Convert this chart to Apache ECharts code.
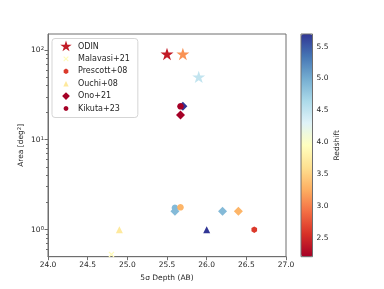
<!DOCTYPE html>
<html><head><meta charset="utf-8">
<script src="https://cdn.jsdelivr.net/npm/echarts@6/dist/echarts.min.js"></script>
<style>html,body{margin:0;padding:0;background:#fff}#c{width:384px;height:289px}</style>
</head><body><div id="c"></div>
<script>
// ---- data ----
const seriesNames = ['ODIN', 'Malavasi+21', 'Prescott+08', 'Ouchi+08', 'Ono+21', 'Kikuta+23'];
const odinDepth = [25.5, 25.7, 25.9];
const odinArea = [90, 90, 50];
const odinZ = [2.4, 3.1, 4.5];
const malavasiDepth = [24.8];
const malavasiArea = [0.53];
const malavasiZ = [3.9];
const prescottDepth = [26.6];
const prescottArea = [1.0];
const prescottZ = [2.6];
const ouchiDepth = [24.9, 26.0];
const ouchiArea = [1.0, 1.0];
const ouchiZ = [3.7, 5.7];
const onoDepth = [25.67, 25.7, 25.6, 26.2, 26.4];
const onoArea = [18.8, 23.5, 1.6, 1.6, 1.6];
const onoZ = [2.2, 5.7, 4.9, 4.9, 3.3];
const kikutaDepth = [25.67, 25.6, 25.67];
const kikutaArea = [23.5, 1.75, 1.77];
const kikutaZ = [2.2, 4.9, 3.3];
const xTickLabels = [24.0, 24.5, 25.0, 25.5, 26.0, 26.5, 27.0];
const yMajorTicks = [1, 10, 100];
const yMinorTicks = [0.6, 0.7, 0.8, 0.9, 2, 3, 4, 5, 6, 7, 8, 9, 20, 30, 40, 50, 60, 70, 80, 90];
const zTicks = [2.5, 3.0, 3.5, 4.0, 4.5, 5.0, 5.5];
const zMin = 2.2, zMax = 5.7;

// ---- colormap RdYlBu ----
const RdYlBu = ['#a50026','#d73027','#f46d43','#fdae61','#fee090','#ffffbf','#e0f3f8','#abd9e9','#74add1','#4575b4','#313695'];
function hex2rgb(h){return [parseInt(h.substr(1,2),16),parseInt(h.substr(3,2),16),parseInt(h.substr(5,2),16)];}
function cmap(z){
  let t = (z - zMin) / (zMax - zMin); t = Math.max(0, Math.min(1, t));
  const p = t * (RdYlBu.length - 1); const i = Math.min(Math.floor(p), RdYlBu.length - 2); const f = p - i;
  const a = hex2rgb(RdYlBu[i]), b = hex2rgb(RdYlBu[i+1]);
  return 'rgb(' + a.map((v,k)=>Math.round(v + (b[k]-v)*f)).join(',') + ')';
}

// ---- marker shapes ----
function poly(pts, s, pad){
  let d = pad ? 'M-1 -1 M1 1 ' : '';
  d += pts.map((p,i)=>(i?'L':'M') + (p[0]*s).toFixed(4) + ' ' + (p[1]*s).toFixed(4)).join(' ') + ' Z';
  return d;
}
const starPts = [[0,-1],[0.2245,-0.309],[0.951,-0.309],[0.363,0.118],[0.588,0.809],[0,0.382],[-0.588,0.809],[-0.363,0.118],[-0.951,-0.309],[-0.2245,-0.309]];
const hexPts = [[0,-1],[0.866,-0.5],[0.866,0.5],[0,1],[-0.866,0.5],[-0.866,-0.5]];
const triPts = [[0,-1],[1,1],[-1,1]];
const diaPts = [[0,-1],[1,0],[0,1],[-1,0]];
const w = 0.28;
const xBar1 = [[-1+w,-1],[1,1-w],[1-w,1],[-1,-1+w]];
const xBar2 = [[1,-1+w],[-1+w,1],[-1,1-w],[1-w,-1]];
function circ(s, pad){
  let d = pad ? 'M-1 -1 M1 1 ' : '';
  const n = 24; const pts = [];
  for (let i=0;i<n;i++){const a=2*Math.PI*i/n; pts.push([Math.cos(a),Math.sin(a)]);}
  return d + poly(pts, s, false);
}
function xshape(s, pad){ return (pad ? 'M-1 -1 M1 1 ' : '') + poly(xBar1, s, false) + ' ' + poly(xBar2, s, false); }

const plotSym = {
  'ODIN': {p: 'path://' + poly(starPts,1,false), s: 13},
  'Malavasi+21': {p: 'path://' + xshape(1,false), s: 6},
  'Prescott+08': {p: 'path://' + poly(hexPts,1,false), s: 6.5},
  'Ouchi+08': {p: 'path://' + poly(triPts,1,false), s: 7},
  'Ono+21': {p: 'path://' + poly(diaPts,1,false), s: 9},
  'Kikuta+23': {p: 'path://' + circ(1,false), s: 6.5}
};
const legSym = {
  'ODIN': 'path://' + poly(starPts,1,true),
  'Malavasi+21': 'path://' + xshape(0.45,true),
  'Prescott+08': 'path://' + poly(hexPts,0.45,true),
  'Ouchi+08': 'path://' + poly(triPts,0.45,true),
  'Ono+21': 'path://' + poly(diaPts,0.65,true),
  'Kikuta+23': 'path://' + circ(0.4,true)
};

const groups = [
  [odinDepth, odinArea, odinZ],
  [malavasiDepth, malavasiArea, malavasiZ],
  [prescottDepth, prescottArea, prescottZ],
  [ouchiDepth, ouchiArea, ouchiZ],
  [onoDepth, onoArea, onoZ],
  [kikutaDepth, kikutaArea, kikutaZ]
];

const txt = '#262626', axc = '#6e6e6e', FS = 7.5, FONT = 'DejaVu Sans';

const series = seriesNames.map((name, si) => {
  const [xs, ys, zs] = groups[si];
  return {
    type: 'scatter', name, xAxisIndex: 0, yAxisIndex: 0,
    symbol: plotSym[name].p, symbolSize: plotSym[name].s, symbolKeepAspect: true,
    itemStyle: {color: cmap(zs[0]), opacity: 1},
    emphasis: {disabled: true},
    data: xs.map((x,i)=>({value:[x, ys[i], zs[i]], itemStyle:{color: cmap(zs[i])}}))
  };
});
series.push({type:'scatter', name:'cbar', xAxisIndex:1, yAxisIndex:2, data:[], silent:true});

const option = {
  animation: false,
  textStyle: {fontFamily: FONT},
  grid: [
    {left:48, right:98, top:34, bottom:32.3, show:true, borderColor:axc, borderWidth:1, backgroundColor:'transparent'},
    {left:301, width:11.5, top:34, height:222.7, show:true, borderColor:axc, borderWidth:1, backgroundColor:'transparent', z:10}
  ],
  xAxis: [
    {gridIndex:0, type:'value', min:24, max:27, interval:0.5,
     axisLine:{show:true, lineStyle:{color:axc}},
     axisTick:{show:true, length:3.5, lineStyle:{color:axc}},
     axisLabel:{fontSize:FS, color:txt, margin:4, fontFamily:FONT, formatter: v => v.toFixed(1)},
     splitLine:{show:false},
     name:'5σ Depth (AB)', nameLocation:'middle', nameGap:16, nameTextStyle:{fontSize:FS, color:txt, fontFamily:FONT}},
    {gridIndex:1, type:'value', min:0, max:1, show:false}
  ],
  yAxis: [
    {gridIndex:0, type:'log', logBase:10, min:0.5, max:150, position:'left',
     axisLine:{show:true, lineStyle:{color:axc}},
     axisTick:{show:true, length:3.5, customValues: yMajorTicks, lineStyle:{color:axc}},
     axisLabel:{customValues: yMajorTicks, margin:4, color:txt, fontSize:FS, fontFamily:FONT,
       formatter: v => '{b|10}{s|' + Math.round(Math.log10(v)) + '}',
       rich:{b:{fontSize:FS, color:txt, fontFamily:FONT}, s:{fontSize:5.3, color:txt, fontFamily:FONT, verticalAlign:'top'}}},
     splitLine:{show:false}, minorTick:{show:false},
     name:'{b|Area [deg}{s|2}{b|]}', nameLocation:'middle', nameGap:23, nameMoveOverlap:false,
     nameTextStyle:{rich:{b:{fontSize:FS, color:txt, fontFamily:FONT}, s:{fontSize:5.3, color:txt, fontFamily:FONT, verticalAlign:'top'}}}},
    {gridIndex:0, type:'log', logBase:10, min:0.5, max:150, position:'left', offset:0,
     axisLine:{show:false},
     axisTick:{show:true, length:2, customValues: yMinorTicks, lineStyle:{color:axc}},
     axisLabel:{show:false}, splitLine:{show:false}},
    {gridIndex:1, type:'value', position:'right', min:zMin, max:zMax,
     axisLine:{show:false},
     axisTick:{show:true, length:3.5, customValues: zTicks, lineStyle:{color:axc}},
     axisLabel:{customValues: zTicks, margin:4, color:txt, fontSize:FS, fontFamily:FONT, formatter: v => v.toFixed(1)},
     splitLine:{show:false},
     name:'Redshift', nameLocation:'middle', nameRotate:90, nameGap:21,
     nameTextStyle:{fontSize:FS, color:txt, fontFamily:FONT}}
  ],
  visualMap: [{
    type:'continuous', seriesIndex: 6, dimension: 1, min:zMin, max:zMax,
    left:301, top:34, itemWidth:11.5, itemHeight:222.7, padding:0,
    calculable:false, hoverLink:false, realtime:false, text:null,
    inRange:{color: RdYlBu.slice()}
  }],
  legend: {
    orient:'vertical', left:52, top:38.5, padding:[2,8,3,8],
    itemWidth:14, itemHeight:12, itemGap:0.4,
    borderColor:'#d5d5d5', borderWidth:1, borderRadius:3, backgroundColor:'rgba(255,255,255,0.8)',
    textStyle:{fontSize:8, color:txt, fontFamily:FONT, lineHeight:12},
    selectedMode:false,
    data: seriesNames.map(n => ({name:n, icon: legSym[n]}))
  },
  series
};
const chart = echarts.init(document.getElementById('c'), null, {renderer:'canvas'});
chart.setOption(option);
</script></body></html>
